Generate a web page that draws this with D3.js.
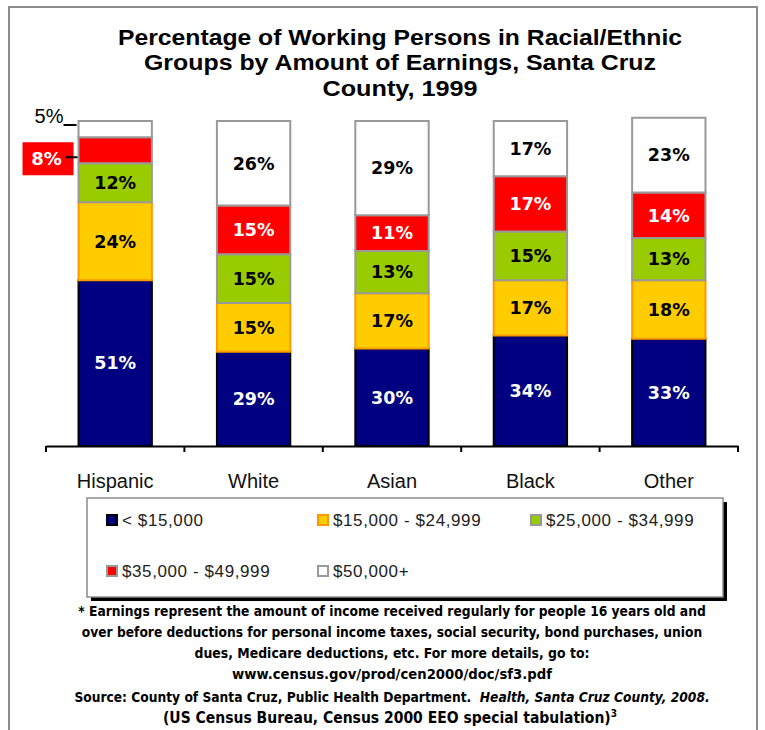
<!DOCTYPE html>
<html>
<head>
<meta charset="utf-8">
<script src="https://cdn.jsdelivr.net/npm/d3@7"></script>
<style>
  html, body { margin: 0; padding: 0; background: #fff; }
  svg { display: block; }
</style>
</head>
<body>
<svg id="chart" width="765" height="730"></svg>
<script>
// Earnings distribution by racial/ethnic group, Santa Cruz County, 1999
const categories = ["Hispanic", "White", "Asian", "Black", "Other"];
const seriesNames = ["< $15,000", "$15,000 - $24,999", "$25,000 - $34,999", "$35,000 - $49,999", "$50,000+"];
const under15k   = [51, 29, 30, 34, 33];
const from15k    = [24, 15, 17, 17, 18];
const from25k    = [12, 15, 13, 15, 13];
const from35k    = [8, 15, 11, 17, 14];
const over50k    = [5, 26, 29, 17, 23];

const titleLines = [
  "Percentage of Working Persons in Racial/Ethnic",
  "Groups by Amount of Earnings, Santa Cruz",
  "County, 1999"
];
const noteLines = [
  "* Earnings represent the amount of income received regularly for people 16 years old and",
  "over before deductions for personal income taxes, social security, bond purchases, union",
  "dues, Medicare deductions, etc. For more details, go to:",
  "www.census.gov/prod/cen2000/doc/sf3.pdf"
];

const fills   = ["#000080", "#FFCC00", "#99CC00", "#FF0000", "#FFFFFF"];
const strokes = ["#000000", "#FF9900", "#999999", "#999999", "#999999"];
const labelColors = ["#FFFFFF", "#000000", "#000000", "#FFFFFF", "#000000"];

const seriesValues = [under15k, from15k, from25k, from35k, over50k];
const rows = categories.map((c, i) => {
  const r = { category: c };
  seriesNames.forEach((s, j) => { r[s] = seriesValues[j][i]; });
  return r;
});

const svg = d3.select("#chart");

// shrink or grow a text's font size so it spans the given width
function fitWidth(sel, width, baseSize) {
  sel.each(function () {
    const w = this.getComputedTextLength();
    if (w > 0) d3.select(this).style("font-size", (baseSize * width / w).toFixed(2) + "px");
  });
}

// outer frame
svg.append("rect")
  .attr("x", 9).attr("y", 7).attr("width", 748).attr("height", 740)
  .attr("fill", "none").attr("stroke", "#8c8c8c").attr("stroke-width", 2);

// title
const titleWidths = [564, 512, 155];
const titleY = [45, 70, 96];
svg.append("g").selectAll("text").data(titleLines).join("text")
  .attr("x", 400).attr("y", (d, i) => titleY[i])
  .attr("text-anchor", "middle")
  .attr("textLength", (d, i) => titleWidths[i])
  .attr("lengthAdjust", "spacingAndGlyphs")
  .style("font-family", "'Liberation Sans', Arial, sans-serif")
  .style("font-weight", "bold")
  .style("font-size", "22px")
  .attr("fill", "#000")
  .text(d => d);

// scales
const x = d3.scaleBand().domain(categories).range([46, 738]).padding(0);
const barFrac = 0.53;
const barW = x.bandwidth() * barFrac;
const y = d3.scaleLinear().domain([0, 100]).range([446, 121]);

const stack = d3.stack().keys(seriesNames);
const stacked = stack(rows);

const plot = svg.append("g");
stacked.forEach((layer, si) => {
  plot.append("g").selectAll("rect").data(layer).join("rect")
    .attr("x", d => x(d.data.category) + (x.bandwidth() - barW) / 2)
    .attr("y", d => y(d[1]))
    .attr("width", barW)
    .attr("height", d => y(d[0]) - y(d[1]))
    .attr("fill", fills[si])
    .attr("stroke", strokes[si])
    .attr("stroke-width", 2);
});

// segment value labels
const labelFont = "'DejaVu Sans', Verdana, sans-serif";
stacked.forEach((layer, si) => {
  layer.forEach(d => {
    const v = d[1] - d[0];
    const cx = x(d.data.category) + x.bandwidth() / 2;
    const cy = (y(d[0]) + y(d[1])) / 2;
    if (v >= 10) {
      plot.append("text")
        .attr("x", cx).attr("y", cy)
        .attr("dy", "0.36em")
        .attr("text-anchor", "middle")
        .style("font-family", labelFont)
        .style("font-weight", "bold")
        .style("font-size", "17.5px")
        .attr("fill", labelColors[si])
        .text(v + "%");
    } else {
      // small segments labelled outside the bar, to the left
      const left = x(d.data.category) + (x.bandwidth() - barW) / 2;
      if (fills[si] === "#FFFFFF") {
        plot.append("text")
          .attr("x", left - 15).attr("y", y(d[1]) + 2)
          .attr("text-anchor", "end")
          .style("font-family", "'Liberation Sans', Arial, sans-serif")
          .style("font-size", "20px")
          .attr("fill", "#000")
          .text(v + "%");
        plot.append("line")
          .attr("x1", left - 15).attr("x2", left - 2)
          .attr("y1", y(d[1]) + 4).attr("y2", y(d[1]) + 4)
          .attr("stroke", "#000").attr("stroke-width", 2);
      } else {
        const bx = left - 56, bw = 51, bh = 33, by = cy - 8;
        plot.append("rect")
          .attr("x", bx).attr("y", by).attr("width", bw).attr("height", bh)
          .attr("fill", fills[si]);
        plot.append("text")
          .attr("x", bx + 24).attr("y", by + bh / 2)
          .attr("dy", "0.36em")
          .attr("text-anchor", "middle")
          .style("font-family", labelFont)
          .style("font-weight", "bold")
          .style("font-size", "18px")
          .attr("fill", labelColors[si])
          .text(v + "%");
        plot.append("line")
          .attr("x1", bx + bw - 8).attr("x2", left - 1)
          .attr("y1", by + 15).attr("y2", by + 15)
          .attr("stroke", "#000").attr("stroke-width", 2);
      }
    }
  });
});

// category axis
const axis = svg.append("g").attr("transform", "translate(0,446)")
  .call(d3.axisBottom(x).tickSize(0).tickPadding(28).tickSizeOuter(0));
axis.select(".domain").attr("stroke", "#000").attr("stroke-width", 2);
axis.selectAll(".tick text")
  .style("font-family", "'Liberation Sans', Arial, sans-serif")
  .style("font-size", "20px")
  .attr("fill", "#111");
const bounds = categories.map(c => x(c)).concat([x.range()[1]]);
axis.selectAll("line.boundary").data(bounds).join("line")
  .attr("class", "boundary")
  .attr("x1", d => d).attr("x2", d => d)
  .attr("y1", 0).attr("y2", 6)
  .attr("stroke", "#000").attr("stroke-width", 2);

// legend
const legend = svg.append("g");
legend.append("rect").attr("x", 91).attr("y", 502).attr("width", 636).attr("height", 99).attr("fill", "#000");
legend.append("rect").attr("x", 87).attr("y", 498).attr("width", 636).attr("height", 99)
  .attr("fill", "#fff").attr("stroke", "#8c8c8c").attr("stroke-width", 1.5);
const legendPos = [[107, 520], [318, 520], [531, 520], [107, 571], [318, 571]];
seriesNames.forEach((s, i) => {
  const [lx, ly] = legendPos[i];
  legend.append("rect")
    .attr("x", lx).attr("y", ly - 5).attr("width", 10).attr("height", 10)
    .attr("fill", fills[i]).attr("stroke", strokes[i]).attr("stroke-width", 2);
  legend.append("text")
    .attr("x", lx + 15).attr("y", ly).attr("dy", "0.36em")
    .style("font-family", "'Liberation Sans', Arial, sans-serif")
    .style("font-size", "17px")
    .style("letter-spacing", "0.6px")
    .attr("fill", "#222")
    .text(s);
});

// footnotes and source
const noteFont = "'Liberation Sans Narrow', 'DejaVu Sans Condensed', 'Arial Narrow', sans-serif";
const noteWidths = [628, 621, 395, 320];
const noteY = [616, 637, 658, 679];
const notes = svg.append("g").selectAll("text").data(noteLines).join("text")
  .attr("x", 392).attr("y", (d, i) => noteY[i])
  .attr("text-anchor", "middle")
  .style("font-family", noteFont)
  .style("font-weight", "bold")
  .style("font-size", "16px")
  .attr("fill", "#000")
  .text(d => d);
notes.each(function (d, i) { fitWidth(d3.select(this), noteWidths[i], 16); });

const src = svg.append("text")
  .attr("x", 392).attr("y", 702)
  .attr("text-anchor", "middle")
  .style("font-family", noteFont)
  .style("font-weight", "bold")
  .style("font-size", "16px")
  .attr("fill", "#000");
src.append("tspan").text("Source: County of Santa Cruz, Public Health Department.\u00a0\u00a0");
src.append("tspan").style("font-style", "italic").text("Health, Santa Cruz County, 2008.");
fitWidth(src, 636, 16);

const last = svg.append("text")
  .attr("x", 390).attr("y", 723)
  .attr("text-anchor", "middle")
  .style("font-family", noteFont)
  .style("font-weight", "bold")
  .style("font-size", "15.5px")
  .attr("fill", "#000");
last.append("tspan").text("(US Census Bureau, Census 2000 EEO special tabulation)");
last.append("tspan").attr("dy", -6).style("font-size", "10px").text("3");
</script>
</body>
</html>
